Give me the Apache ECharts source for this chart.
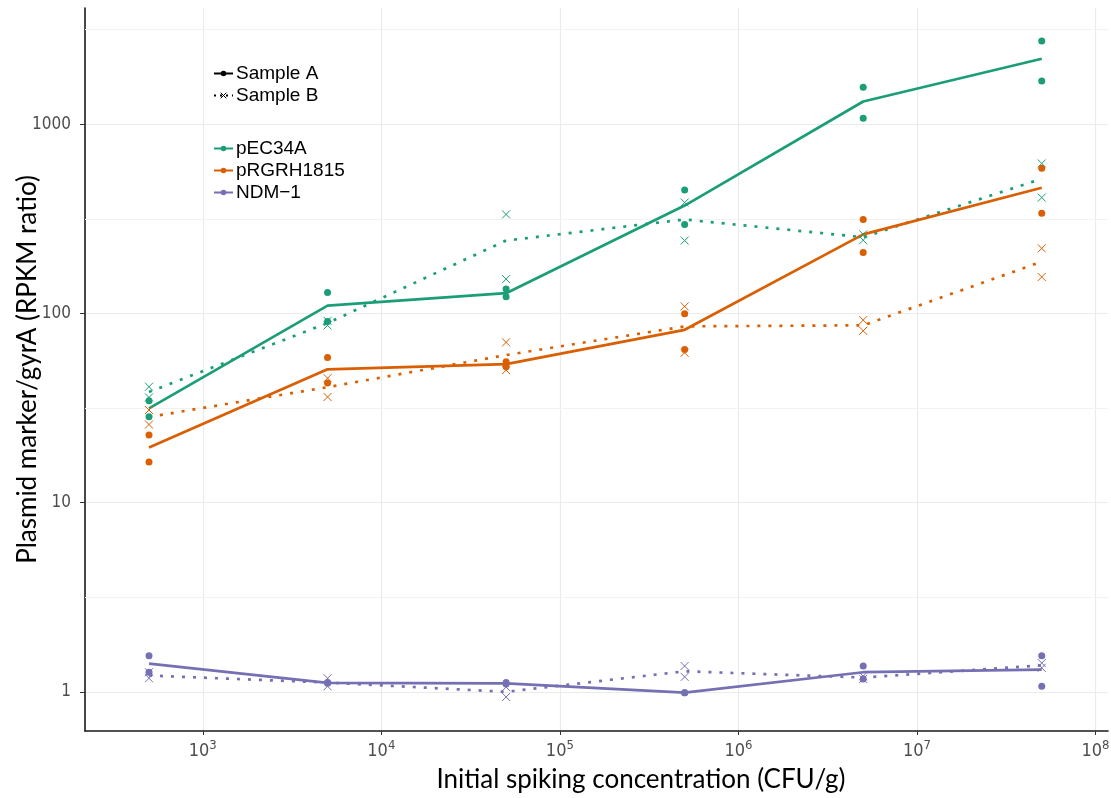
<!DOCTYPE html>
<html>
<head>
<meta charset="utf-8">
<script src="https://cdn.jsdelivr.net/npm/echarts@6/dist/echarts.min.js"></script>
<style>
  html, body { margin: 0; padding: 0; background: #fff; }
  #chart { width: 1111px; height: 798px; }
</style>
</head>
<body>
<div id="chart"></div>
<script>
// spiking concentrations (CFU/g)
const conc = [5e2, 5e3, 5e4, 5e5, 5e6, 5e7]

// replicate ratios, two per concentration
const pEC34A_A = [[34.6, 28.5], [129, 90.6], [134.6, 122.5], [450, 295], [1570, 1077], [2760, 1695]]
const pEC34A_B = [[41.0, 36.0], [91.5, 86.5], [334, 152], [386, 243], [262, 244], [621, 410]]
const pRGRH1815_A = [[22.8, 16.4], [58.5, 42.9], [55.6, 52.3], [99.6, 64.6], [314, 210], [586, 339]]
const pRGRH1815_B = [[30.9, 25.9], [45.5, 36.2], [70.4, 50.2], [109, 62], [92.3, 81], [221, 156]]
const NDM1_A = [[1.55, 1.27], [1.12, 1.11], [1.12, 1.10], [0.99, 0.99], [1.37, 1.17], [1.55, 1.07]]
const NDM1_B = [[1.27, 1.18], [1.18, 1.07], [1.06, 0.94], [1.37, 1.20], [1.21, 1.17], [1.42, 1.34]]

// summary lines
const pEC34A_lineA = [31.5, 110, 128, 372, 1320, 2220]
const pEC34A_lineB = [38.5, 89, 243, 314, 253, 515]
const pRGRH1815_lineA = [19.6, 50.7, 54, 82, 262, 462]
const pRGRH1815_lineB = [28.4, 40.8, 60.3, 85.5, 86.6, 188]
const NDM1_lineA = [1.41, 1.115, 1.11, 0.99, 1.27, 1.31]
const NDM1_lineB = [1.22, 1.12, 1.0, 1.285, 1.19, 1.38]

// y minor breaks (half decades)
const yMinorBreaks = [3.162, 31.62, 316.2, 3162]

const plasmids = [
  { name: 'pEC34A', color: '#1B9E77', a: pEC34A_A, b: pEC34A_B, lineA: pEC34A_lineA, lineB: pEC34A_lineB },
  { name: 'pRGRH1815', color: '#D95F02', a: pRGRH1815_A, b: pRGRH1815_B, lineA: pRGRH1815_lineA, lineB: pRGRH1815_lineB },
  { name: 'NDM\u22121', color: '#7570B3', a: NDM1_A, b: NDM1_B, lineA: NDM1_lineA, lineB: NDM1_lineB }
]

const crossPath = 'path://M0,0L10,10M10,0L0,10'
const tickFont = "'Liberation Sans Narrow', 'DejaVu Sans Condensed', sans-serif"
const titleFont = "Lato, 'Open Sans', sans-serif"
const dotted = [3, 8]

function pairs(vals) {
  return conc.map((c, i) => [c, vals[i]])
}
function reps(vals) {
  const out = []
  conc.forEach((c, i) => {
    vals[i].forEach(v => out.push([c, v]))
  })
  return out
}

const series = [
  // legend-only entries for sample type
  {
    name: 'Sample A', type: 'line', data: [], color: '#000',
    symbol: 'circle', symbolSize: 6,
    lineStyle: { width: 1.8 },
    markLine: {
      silent: true, z: 1, symbol: 'none', animation: false,
      label: { show: false },
      lineStyle: { color: '#F2F2F2', width: 1, type: 'solid' },
      emphasis: { disabled: true },
      data: yMinorBreaks.map(v => ({ yAxis: v }))
    }
  },
  {
    name: 'Sample B', type: 'line', data: [], color: '#000',
    symbol: crossPath, symbolSize: 6,
    lineStyle: { width: 1.8, type: [2, 4] }
  }
]

plasmids.forEach(p => {
  series.push({
    name: p.name, type: 'line', data: pairs(p.lineA), color: p.color,
    symbol: 'circle', showSymbol: false, z: 3,
    lineStyle: { width: 2.7 }
  })
  series.push({
    name: p.name, type: 'line', data: pairs(p.lineB), color: p.color,
    symbol: 'circle', showSymbol: false, z: 3,
    lineStyle: { width: 2.7, type: dotted, cap: 'butt' }
  })
  series.push({
    name: p.name, type: 'scatter', data: reps(p.a), color: p.color,
    symbol: 'circle', symbolSize: 7, z: 4,
    itemStyle: { opacity: 1 }
  })
  series.push({
    name: p.name, type: 'scatter', data: reps(p.b), color: p.color,
    symbol: crossPath, symbolSize: 8, z: 4,
    itemStyle: { color: 'none', borderColor: p.color, borderWidth: 1, opacity: 1 }
  })
})

const legendBase = {
  orient: 'vertical',
  selectedMode: false,
  itemWidth: 19,
  itemHeight: 7,
  itemGap: 3,
  textStyle: { fontFamily: "'Liberation Sans', Arial, sans-serif", fontSize: 19, color: '#000', padding: [0, 0, 0, -2] }
}

const chart = echarts.init(document.getElementById('chart'))
chart.setOption({
  animation: false,
  backgroundColor: '#fff',
  grid: { left: 85, right: 3, top: 8, bottom: 67, outerBoundsMode: 'none', containLabel: false },
  legend: [
    Object.assign({}, legendBase, {
      left: 208, top: 59,
      data: [
        'Sample A',
        {
          name: 'Sample B',
          lineStyle: { color: '#000', width: 1.8, type: [2, 4] },
          itemStyle: { color: 'none', borderColor: '#000', borderWidth: 1 }
        }
      ]
    }),
    Object.assign({}, legendBase, { left: 208, top: 134, data: plasmids.map(p => p.name) })
  ],
  xAxis: {
    type: 'log', logBase: 10, min: 219, max: 1.175e8,
    name: 'Initial spiking concentration (CFU/g)',
    nameLocation: 'middle', nameGap: 36, nameMoveOverlap: false,
    nameTextStyle: { fontFamily: titleFont, fontSize: 26, color: '#000', padding: [0, 0, 0, 89] },
    axisLine: { show: true, lineStyle: { color: '#1a1a1a', width: 1.6 } },
    axisTick: { show: true, length: 4, lineStyle: { color: '#333' } },
    axisLabel: {
      showMinLabel: false, showMaxLabel: false, margin: 8,
      formatter: v => '{b|10}{s|' + Math.round(Math.log10(v)) + '}',
      rich: {
        b: { fontFamily: tickFont, fontSize: 18, color: '#4D4D4D' },
        s: { fontFamily: tickFont, fontSize: 13, color: '#4D4D4D', padding: [0, 0, 12, 0] }
      }
    },
    splitLine: { show: true, showMinLine: false, showMaxLine: false, lineStyle: { color: '#EBEBEB', width: 1.2 } }
  },
  yAxis: {
    type: 'log', logBase: 10, min: 0.621, max: 4120,
    name: 'Plasmid marker/gyrA (RPKM ratio)',
    nameLocation: 'middle', nameGap: 44, nameMoveOverlap: false,
    nameTextStyle: { fontFamily: titleFont, fontSize: 26, color: '#000' },
    axisLine: { show: true, lineStyle: { color: '#1a1a1a', width: 1.6 } },
    axisTick: { show: true, length: 5, lineStyle: { color: '#333' } },
    axisLabel: {
      showMinLabel: false, showMaxLabel: false, margin: 14,
      fontFamily: tickFont, fontSize: 17, color: '#4D4D4D',
      formatter: v => String(Math.round(v))
    },
    splitLine: { show: true, showMinLine: false, showMaxLine: false, lineStyle: { color: '#EBEBEB', width: 1.2 } }
  },
  series: series
})
</script>
</body>
</html>
